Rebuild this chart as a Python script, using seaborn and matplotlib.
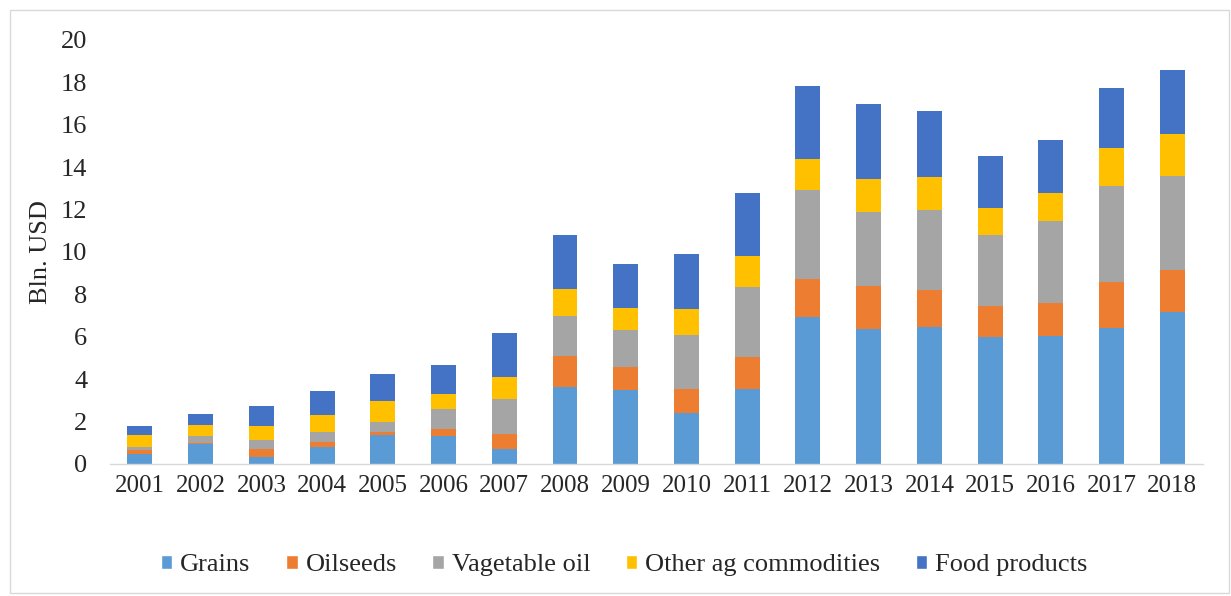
import pandas as pd
import numpy as np
import matplotlib
matplotlib.use("Agg")
import matplotlib.pyplot as plt
from matplotlib.patches import Patch, Rectangle
import seaborn as sns

years = [str(y) for y in range(2001, 2019)]
grains = [0.45, 0.95, 0.35, 0.8, 1.35, 1.32, 0.7, 3.65, 3.5, 2.42, 3.55, 6.92, 6.35, 6.48, 6.0, 6.04, 6.43, 7.19]
oilseeds = [0.2, 0.05, 0.35, 0.25, 0.15, 0.35, 0.7, 1.45, 1.07, 1.12, 1.5, 1.81, 2.06, 1.73, 1.45, 1.54, 2.17, 1.96]
veg_oil = [0.15, 0.32, 0.45, 0.45, 0.5, 0.9, 1.65, 1.9, 1.73, 2.54, 3.3, 4.19, 3.46, 3.77, 3.35, 3.9, 4.51, 4.43]
other_ag = [0.55, 0.5, 0.63, 0.8, 0.95, 0.73, 1.07, 1.27, 1.05, 1.23, 1.47, 1.45, 1.57, 1.57, 1.26, 1.32, 1.78, 1.97]
food = [0.45, 0.55, 0.95, 1.15, 1.3, 1.38, 2.06, 2.55, 2.1, 2.58, 2.95, 3.48, 3.54, 3.12, 2.47, 2.48, 2.83, 3.03]

series = ["Grains", "Oilseeds", "Vagetable oil", "Other ag commodities", "Food products"]
colors = ["#5B9BD5", "#ED7D31", "#A5A5A5", "#FFC000", "#4472C4"]

df = pd.DataFrame({"Year": years, "Grains": grains, "Oilseeds": oilseeds,
                   "Vagetable oil": veg_oil, "Other ag commodities": other_ag,
                   "Food products": food})

sns.set_style("white")
plt.rcParams["font.family"] = ["Liberation Serif", "DejaVu Serif"]

fig = plt.figure(figsize=(12.31, 5.96), dpi=100)
ax = fig.add_axes([0.089, 0.2215, 0.888, 0.7115])

# stacked bars, one seaborn call per series
bottom = np.zeros(len(years))
for name, col in zip(series, colors):
    sns.barplot(data=df, x="Year", y=name, color=col, bottom=bottom,
                width=0.41, ax=ax, saturation=1, linewidth=0)
    bottom += df[name].values

ax.set_ylim(0, 20)
ax.set_yticks(range(0, 21, 2))
ax.set_xlim(-0.5, len(years) - 0.5)
ax.set_xlabel("")
ax.set_ylabel("Bln. USD", fontsize=19, color="#262626")
ax.yaxis.set_label_coords(-0.053, 0.5)
ax.tick_params(axis="both", length=0, colors="#262626")
ax.tick_params(axis="x", labelsize=18, pad=8)
ax.tick_params(axis="y", labelsize=19, pad=16)
for s in ["top", "right", "left"]:
    ax.spines[s].set_visible(False)
ax.spines["bottom"].set_color("#D9D9D9")
ax.spines["bottom"].set_linewidth(1)

handles = [Patch(facecolor=c, label=s) for s, c in zip(series, colors)]
fig.legend(handles=handles, loc="center", bbox_to_anchor=(0.507, 0.052), ncol=5,
           frameon=False, fontsize=19, handlelength=0.45, handleheight=0.45,
           handletextpad=0.3, columnspacing=1.33, labelcolor="#262626")

# thin frame around the chart area
fig.patches.append(Rectangle((10 / 1231, 3 / 596), 1 - 12 / 1231, 1 - 13 / 596,
                             transform=fig.transFigure, fill=False,
                             edgecolor="#D9D9D9", linewidth=1))

fig.savefig("out.png", dpi=100)
